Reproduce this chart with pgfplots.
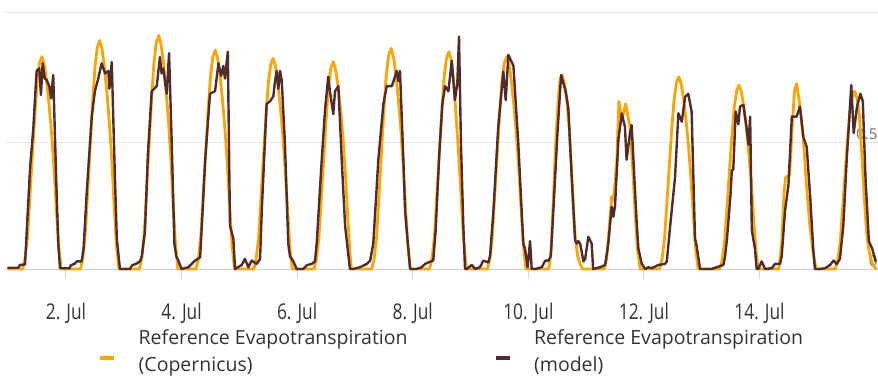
\documentclass[border=0pt]{standalone}
\usepackage{fontspec}
\setmainfont{Open Sans}
\newfontfamily\condfont[FakeStretch=0.8]{Open Sans}
\usepackage{pgfplots}
\pgfplotsset{compat=1.18}
\definecolor{orng}{RGB}{255,165,0}
\definecolor{brwn}{RGB}{80,44,44}
\definecolor{axisblue}{RGB}{204,214,235}
\definecolor{gridgray}{RGB}{230,230,230}
\definecolor{txt}{RGB}{51,51,51}
\definecolor{ylab}{RGB}{110,110,110}
\begin{document}
\begin{tikzpicture}[x=1pt,y=1pt]
\path[use as bounding box] (-5,-107) rectangle (873,269);
\begin{axis}[at={(0,0)}, anchor=south west, scale only axis,
  width=873pt, height=257pt,
  xmin=-1.33, xmax=361.2, ymin=0, ymax=1.012,
  axis x line*=bottom, axis y line*=right,
  x axis line style={draw=axisblue, line width=1pt, -},
  y axis line style={draw=none},
  xtick={24,72,120,168,216,264,312},
  xticklabels={2. Jul,4. Jul,6. Jul,8. Jul,10. Jul,12. Jul,14. Jul},
  xtick style={draw=axisblue, line width=1pt},
  xtick align=outside, major tick length=10pt,
  ytick={0,0.5,1.012}, yticklabels={0,0.5,{}},
  ytick style={draw=none},
  ymajorgrids, grid style={draw=gridgray, line width=1pt},
  yticklabel style={anchor=south east, xshift=3pt, yshift=-1pt, font=\fontsize{15}{18}\selectfont, text=ylab},
  xticklabel style={font=\fontsize{21.7}{26}\selectfont\condfont, text=txt, yshift=-20pt},
  clip=false,
  legend columns=2,
  legend cell align=left,
  legend style={at={(0.1065,-0.2257)}, anchor=north west, draw=none, fill=none, inner sep=0pt,
    font=\fontsize{19.5}{27}\selectfont, text=txt, cells={align=left},
    /tikz/every odd column/.append style={column sep=20pt},
    /tikz/every even column/.append style={column sep=84pt}},
  legend image code/.code={\draw[#1, line width=4.5pt, line cap=butt] (0pt,-7pt) -- (14pt,-7pt);},
  every axis plot/.append style={line join=round, line cap=round},
]
\addplot[orng, line width=2.8pt] coordinates {
(0,0)
(6,0) (7,0.042) (8,0.125) (9,0.284) (10,0.443) (11,0.602) (12,0.736) (13,0.811) (14,0.836) (15,0.803) (16,0.736) (17,0.644) (18,0.535) (19,0.401) (20,0.234) (21,0.084) (22,0)
(30,0) (31,0.045) (32,0.135) (33,0.306) (34,0.477) (35,0.648) (36,0.792) (37,0.873) (38,0.90) (39,0.864) (40,0.792) (41,0.693) (42,0.576) (43,0.432) (44,0.252) (45,0.09) (46,0)
(54.5,0) (55.5,0.046) (56.5,0.138) (57.5,0.313) (58.5,0.488) (59.5,0.662) (60.5,0.810) (61.5,0.892) (62.5,0.92) (63.5,0.883) (64.5,0.810) (65.5,0.708) (66.5,0.589) (67.5,0.442) (68.5,0.258) (69.5,0.092) (70.5,0)
(78,0) (79,0.043) (80,0.129) (81,0.293) (82,0.457) (83,0.621) (84,0.759) (85,0.836) (86,0.862) (87,0.828) (88,0.759) (89,0.664) (90,0.552) (91,0.414) (92,0.241) (93,0.086) (94,0)
(102,0) (103,0.042) (104,0.125) (105,0.282) (106,0.440) (107,0.598) (108,0.730) (109,0.805) (110,0.83) (111,0.797) (112,0.730) (113,0.639) (114,0.531) (115,0.398) (116,0.232) (117,0.083) (118,0)
(127,0) (128,0.041) (129,0.122) (130,0.277) (131,0.432) (132,0.588) (133,0.718) (134,0.792) (135,0.816) (136,0.783) (137,0.718) (138,0.628) (139,0.522) (140,0.38) (141,0.2) (142,0.05) (142.5,0)
(151,0) (152,0.043) (153,0.130) (154,0.295) (155,0.461) (156,0.626) (157,0.765) (158,0.843) (159,0.869) (160,0.834) (161,0.765) (162,0.669) (163,0.556) (164,0.417) (165,0.243) (166,0.087) (167,0)
(175,0) (176,0.043) (177,0.128) (178,0.291) (179,0.454) (180,0.616) (181,0.753) (182,0.830) (183,0.856) (184,0.822) (185,0.74) (186,0.60) (187,0.46) (188,0.30) (189,0.13) (190,0.02) (190.5,0)
(199,0) (200,0.042) (201,0.125) (202,0.284) (203,0.443) (204,0.602) (205,0.736) (206,0.811) (207,0.836) (208,0.803) (209,0.736) (210,0.644) (211,0.535) (212,0.401) (213,0.234) (214,0.084) (215,0)
(224.5,0) (225.5,0.08) (226.5,0.30) (227.5,0.52) (228.5,0.68) (229.3,0.75) (230,0.764) (231,0.73) (232,0.66) (233,0.55) (234,0.38) (235,0.20) (235.5,0.12) (236.5,0.05) (237.5,0.02) (238.5,0)
(247.5,0) (248.5,0.04) (249.5,0.15) (250.6,0.285) (251.3,0.27) (252.7,0.42) (253.6,0.66) (254.8,0.587) (256.4,0.65) (258.2,0.56) (259.2,0.42) (260.3,0.23) (261.3,0.08) (262.4,0)
(270.5,0) (271.5,0.038) (272.5,0.114) (273.5,0.257) (274.5,0.401) (275.5,0.545) (276.5,0.666) (277.5,0.734) (278.5,0.757) (279.5,0.727) (280.5,0.666) (281.5,0.583) (282.5,0.484) (283.5,0.363) (284.5,0.212) (285.5,0.076) (286.5,0)
(295.5,0) (296.5,0.036) (297.5,0.109) (298.5,0.246) (299.5,0.384) (300.5,0.521) (301.5,0.637) (302.5,0.702) (303.5,0.724) (304.5,0.695) (305.5,0.637) (306.5,0.557) (307.5,0.463) (308.5,0.348) (309.5,0.203) (310.5,0.072) (311.5,0)
(320,0) (321.2,0.1) (322.2,0.3) (322.8,0.36) (324.5,0.37) (325.5,0.55) (326.5,0.70) (327.4,0.73) (328.5,0.66) (330.2,0.51) (331.5,0.33) (332.8,0.18) (334.3,0.06) (335.5,0)
(343.5,0) (344.5,0.035) (345.5,0.105) (346.5,0.238) (347.5,0.371) (348.5,0.504) (349.5,0.616) (350.5,0.679) (351.5,0.70) (352.5,0.672) (353.5,0.60) (354.5,0.45) (355.5,0.28) (356.5,0.14) (357.5,0.07) (358.5,0.03) (359.5,0.01) (360.5,0)
};
\addlegendentry{Reference Evapotranspiration\\(Copernicus)}
\addplot[brwn, line width=2.4pt] coordinates {
(0,0.005) (4.2,0.005) (4.9,0.016) (7.0,0.018) (7.7,0.15) (9.1,0.40) (10.4,0.55) (11.8,0.78) (12.9,0.79) (13.6,0.685) (14.3,0.81) (15.2,0.75) (16,0.744) (17.1,0.718) (17.8,0.672) (18.7,0.764) (19.9,0.363) (20.8,0.10) (21.5,0.003)
(25.5,0.003) (26,0.015) (27.5,0.02) (28.5,0.03) (30.5,0.03)
(31.3,0.08) (32.6,0.30) (34.7,0.60) (36.0,0.70) (37.4,0.75) (38.8,0.81) (40.2,0.77) (41.6,0.78) (42.0,0.71) (43.0,0.815) (44.2,0.40) (45.1,0.12) (46.4,0.0)
(50.5,0.0) (51.5,0.015) (53,0.02) (54.7,0.03)
(55.5,0.05) (56.8,0.15) (58,0.45) (59.6,0.70) (61.7,0.72) (63.0,0.835) (63.7,0.77) (64.4,0.79) (65.8,0.69) (66.8,0.85) (67.9,0.5) (69.0,0.1) (69.8,0.05) (70.6,0.035) (72.0,0.0)
(74.8,0.007) (77.6,0.033) (79.7,0.046)
(80.4,0.17) (81.8,0.43) (83.8,0.69) (85.9,0.70) (87.3,0.81) (88.4,0.76) (89.3,0.80) (90.0,0.75) (91.2,0.856) (92.1,0.17) (93.5,0.12) (94.2,0.0)
(97.0,0.016) (98.3,0.04) (99.7,0.007) (101.1,0.033) (103.2,0.02) (104.6,0.04)
(105.3,0.23) (106.6,0.5) (107.3,0.65) (108.7,0.66) (110.1,0.68) (110.8,0.74) (111.5,0.78) (112.2,0.71) (112.9,0.78) (113.6,0.74) (114.9,0.5) (116.3,0.1) (117.0,0.05) (118.4,0.03) (119.8,0.0)
(122.5,0.0) (124,0.015) (126,0.02) (127.4,0.03)
(128.1,0.1) (130.2,0.43) (131.6,0.63) (132.9,0.757) (133.6,0.70) (135.0,0.61) (135.7,0.70) (137.1,0.72) (138.5,0.43) (139.9,0.17) (141.9,0.0)
(143.3,0.0) (146.1,0.007) (148.9,0.02) (150.3,0.033)
(151.6,0.1) (153.7,0.43) (155.8,0.65) (157.2,0.72) (159.3,0.72) (160.6,0.757) (161.3,0.78) (162.0,0.74) (162.7,0.78) (164.1,0.43) (164.8,0.23) (165.5,0.15) (166.9,0.0)
(169.6,0.0) (171.7,0.007) (173.1,0.02) (174.5,0.026) (176.5,0.033)
(177.5,0.15) (179,0.45) (180.3,0.65) (181.4,0.72) (182.8,0.70) (184.2,0.82) (185.5,0.665) (186.5,0.73) (187.2,0.915) (188.0,0.5) (189,0.17) (189.7,0.0)
(190.4,0.0) (192.5,0.016) (193.9,0.0) (195.9,0.007) (197.3,0.033) (199.4,0.026) (200.1,0.05)
(201.5,0.23) (203.5,0.56) (205.6,0.777) (206.6,0.665) (207.7,0.843) (209.8,0.80) (211.8,0.5) (213.9,0.1) (214.6,0.08) (215.7,0.007) (216.7,0.11) (217.4,0.0)
(218.9,0.0) (221.6,0.007) (223,0.033) (224.4,0.033)
(225.3,0.05) (226.5,0.25) (228,0.52) (229.6,0.764) (230.3,0.74) (231.5,0.70) (232.6,0.634) (234,0.36) (235.4,0.114) (236.1,0.10) (236.7,0.11) (237.5,0.10) (238.9,0.03) (239.6,0.04) (240.9,0.127) (242.3,0.10) (242.9,0.0)
(245.8,0.007) (247.9,0.016)
(249.2,0.1) (250.6,0.245) (251.3,0.206) (252.0,0.25) (253.4,0.51) (254.8,0.613) (256.1,0.56) (256.8,0.43) (258.2,0.535) (258.9,0.567) (261.0,0.18) (261.7,0.08) (263.1,0.02) (264.5,0.0)
(265.8,0.007) (267.2,0.003) (270.0,0.016) (272.8,0.02) (273.5,0.03)
(274.9,0.17) (276.9,0.36) (278.3,0.613) (279.7,0.58) (281.1,0.678) (282.4,0.69) (283.8,0.62) (285.2,0.12) (285.9,0.09) (287.3,0.0)
(289.4,0.0) (292.2,0.0) (294.2,0.007) (297.0,0.016)
(297.7,0.05) (298.5,0.12) (300,0.30) (300.5,0.39) (301.1,0.39) (302.1,0.62) (303.2,0.57) (303.9,0.64) (305.3,0.646) (306.7,0.55) (307.4,0.49) (308.1,0.60) (308.8,0.153) (310.1,0.08) (310.8,0.0)
(311.5,0.0) (312.9,0.03) (314.3,0.0) (317.1,0.003) (318.4,0.02) (320.5,0.02)
(321.2,0.05) (322.6,0.23) (324.0,0.33) (325.4,0.60) (327.4,0.60) (328.8,0.64) (330.2,0.52) (331.6,0.48) (333.0,0.29) (334.3,0.08) (335.0,0.0)
(337.1,0.0) (339.2,0.003) (341.3,0.016) (342.7,0.033) (344.1,0.02) (345.4,0.04)
(346.8,0.17) (348.2,0.43) (349.3,0.6) (350.1,0.724) (351.1,0.535) (352.5,0.64) (353.9,0.69) (354.9,0.66) (356.0,0.36) (357.4,0.11) (358.8,0.08) (360.2,0.03)
};
\addlegendentry{Reference Evapotranspiration\\(model)}
\end{axis}
\end{tikzpicture}
\end{document}
